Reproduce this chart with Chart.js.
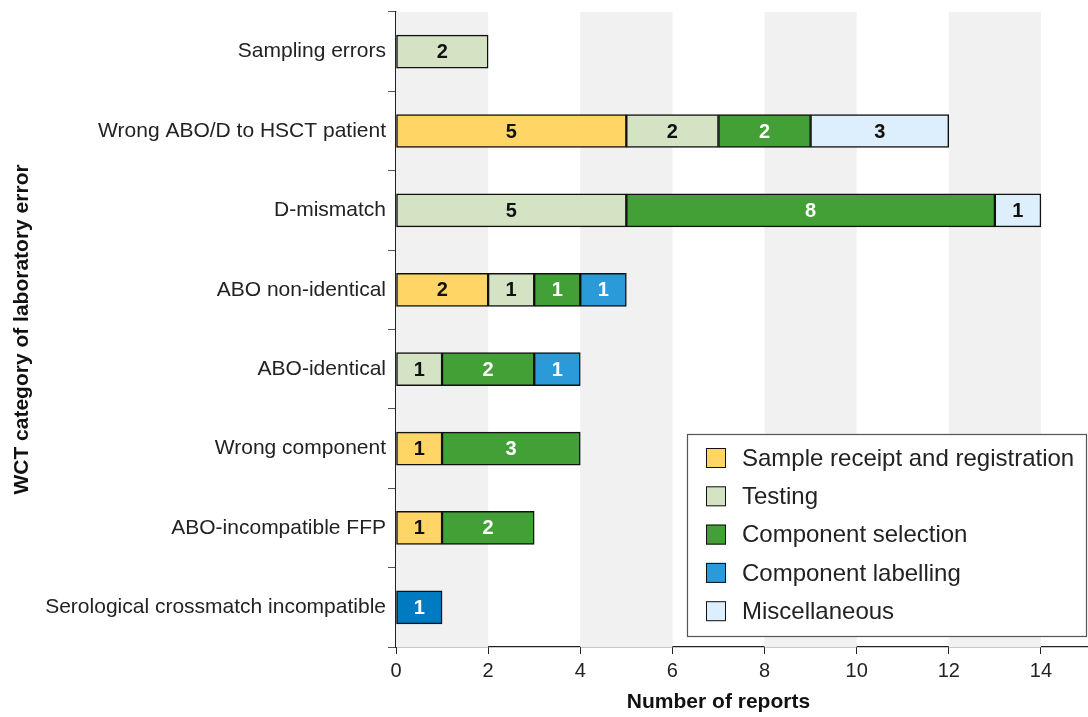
<!DOCTYPE html>
<html>
<head>
<meta charset="utf-8">
<script src="https://cdn.jsdelivr.net/npm/chart.js@4/dist/chart.umd.min.js"></script>
<style>
  html, body { margin: 0; padding: 0; background: #fff; }
  #wrap { width: 1088px; height: 717px; position: relative; }
</style>
</head>
<body>
<div id="wrap"><canvas id="myChart" width="1088" height="717"></canvas></div>
<script>
// categories top to bottom
let categories = ["Sampling errors", "Wrong ABO/D to HSCT patient", "D-mismatch", "ABO non-identical",
    "ABO-identical", "Wrong component", "ABO-incompatible FFP", "Serological crossmatch incompatible"]

let sampleReceipt = [0, 5, 0, 2, 0, 1, 1, 0]
let testing = [2, 2, 5, 1, 1, 0, 0, 0]
let componentSelection = [0, 2, 8, 1, 2, 3, 2, 0]
let componentLabelling = [0, 0, 0, 1, 1, 0, 0, 1]
let miscellaneous = [0, 3, 1, 0, 0, 0, 0, 0]

let seriesNames = ["Sample receipt and registration", "Testing", "Component selection", "Component labelling", "Miscellaneous"]
let xTicks = [0, 2, 4, 6, 8, 10, 12, 14]

const FONT = "'Liberation Sans', Arial, sans-serif"

// grey bands behind bars, every other 2-unit step
const bandsPlugin = {
    id: "bands",
    beforeDatasetsDraw(chart) {
        let ctx = chart.ctx, x = chart.scales.x, a = chart.chartArea
        ctx.save()
        ctx.fillStyle = "#f1f1f1"
        for (let v = 0; v < 14; v += 4) {
            let x0 = x.getPixelForValue(v), x1 = x.getPixelForValue(v + 2)
            ctx.fillRect(x0, a.top, x1 - x0, a.bottom - a.top)
        }
        ctx.restore()
    }
}

// numbers inside bar segments
const labelsPlugin = {
    id: "segLabels",
    afterDatasetsDraw(chart) {
        let ctx = chart.ctx
        ctx.save()
        ctx.font = "bold 20px " + FONT
        ctx.textAlign = "center"
        ctx.textBaseline = "middle"
        chart.data.datasets.forEach((ds, i) => {
            let meta = chart.getDatasetMeta(i)
            meta.data.forEach((bar, j) => {
                let v = ds.data[j]
                if (!v) return
                ctx.fillStyle = ds.textColor
                ctx.fillText(String(v), (bar.x + bar.base) / 2, bar.y + 1)
            })
        })
        ctx.restore()
    }
}

// boxed legend in lower right of plot + x title centred under 0..14
const legendPlugin = {
    id: "boxLegend",
    afterDraw(chart) {
        let ctx = chart.ctx, a = chart.chartArea, x = chart.scales.x
        let right = a.right - 1, bottom = a.bottom - 11
        let left = 687, top = 434
        ctx.save()
        ctx.fillStyle = "#fff"
        ctx.fillRect(left, top, right - left, bottom - top)
        ctx.strokeStyle = "#555"
        ctx.lineWidth = 1.2
        ctx.strokeRect(left + 0.5, top + 0.5, right - left, bottom - top)
        ctx.font = "24px " + FONT
        ctx.textBaseline = "middle"
        chart.data.datasets.forEach((ds, i) => {
            let y = top + 24 + i * 38.3
            ctx.fillStyle = ds.legendColor
            ctx.fillRect(706, y - 10, 20, 20)
            ctx.strokeStyle = "#111"
            ctx.lineWidth = 1
            ctx.strokeRect(706.5, y - 9.5, 19, 19)
            ctx.fillStyle = "#222"
            ctx.fillText(ds.label, 742, y + 1)
        })

        ctx.font = "bold 21px " + FONT
        ctx.fillStyle = "#111"
        ctx.textAlign = "center"
        ctx.fillText("Number of reports", (x.getPixelForValue(0) + x.getPixelForValue(14)) / 2, 702)
        ctx.restore()
    }
}

let colors = ["#ffd565", "#d5e3c5", "#43a036", "#2a9bd8", "#ddeffc"]
let textColors = ["#111", "#111", "#fff", "#fff", "#111"]
let values = [sampleReceipt, testing, componentSelection, componentLabelling, miscellaneous]

let datasets = values.map((vals, i) => ({
    label: seriesNames[i],
    data: vals,
    backgroundColor: i === 3 ? categories.map((c, j) => j === 7 ? "#007bc2" : colors[i]) : colors[i],
    legendColor: colors[i],
    textColor: textColors[i],
    borderColor: "#111",
    borderWidth: 1.5,
    borderSkipped: false,
    barThickness: 33
}))

let chart = new Chart(document.getElementById("myChart").getContext("2d"), {
    type: "bar",
    data: { labels: categories, datasets: datasets },
    options: {
        indexAxis: "y",
        responsive: false,
        animation: false,
        layout: { padding: { top: 3, right: 1, left: 0, bottom: 0 } },
        plugins: { legend: { display: false }, tooltip: { enabled: false } },
        scales: {
            x: {
                stacked: true,
                min: 0,
                max: 15,
                afterBuildTicks(scale) { scale.ticks = xTicks.map(v => ({ value: v })) },
                afterFit(scale) { scale.height = 70 },
                grid: { drawOnChartArea: false, drawTicks: true, tickLength: 7, color: "#222", tickColor: "#222" },
                border: { color: "#222", width: 1.3 },
                ticks: { color: "#222", font: { family: FONT, size: 20 }, padding: 5 },
                title: { display: false }
            },
            y: {
                stacked: true,
                afterFit(scale) { scale.width = 396 },
                grid: { offset: true, drawOnChartArea: false, tickLength: 8, color: "#555", tickColor: "#555" },
                border: { color: "#222", width: 1.3 },
                ticks: { color: "#222", font: { family: FONT, size: 21, lineHeight: 0.95 }, padding: 2 },
                title: { display: true, text: "WCT category of laboratory error", color: "#111",
                    font: { family: FONT, size: 21, weight: "bold" }, padding: { top: 10, bottom: 4 } }
            }
        }
    },
    plugins: [bandsPlugin, labelsPlugin, legendPlugin]
});
</script>
</body>
</html>
